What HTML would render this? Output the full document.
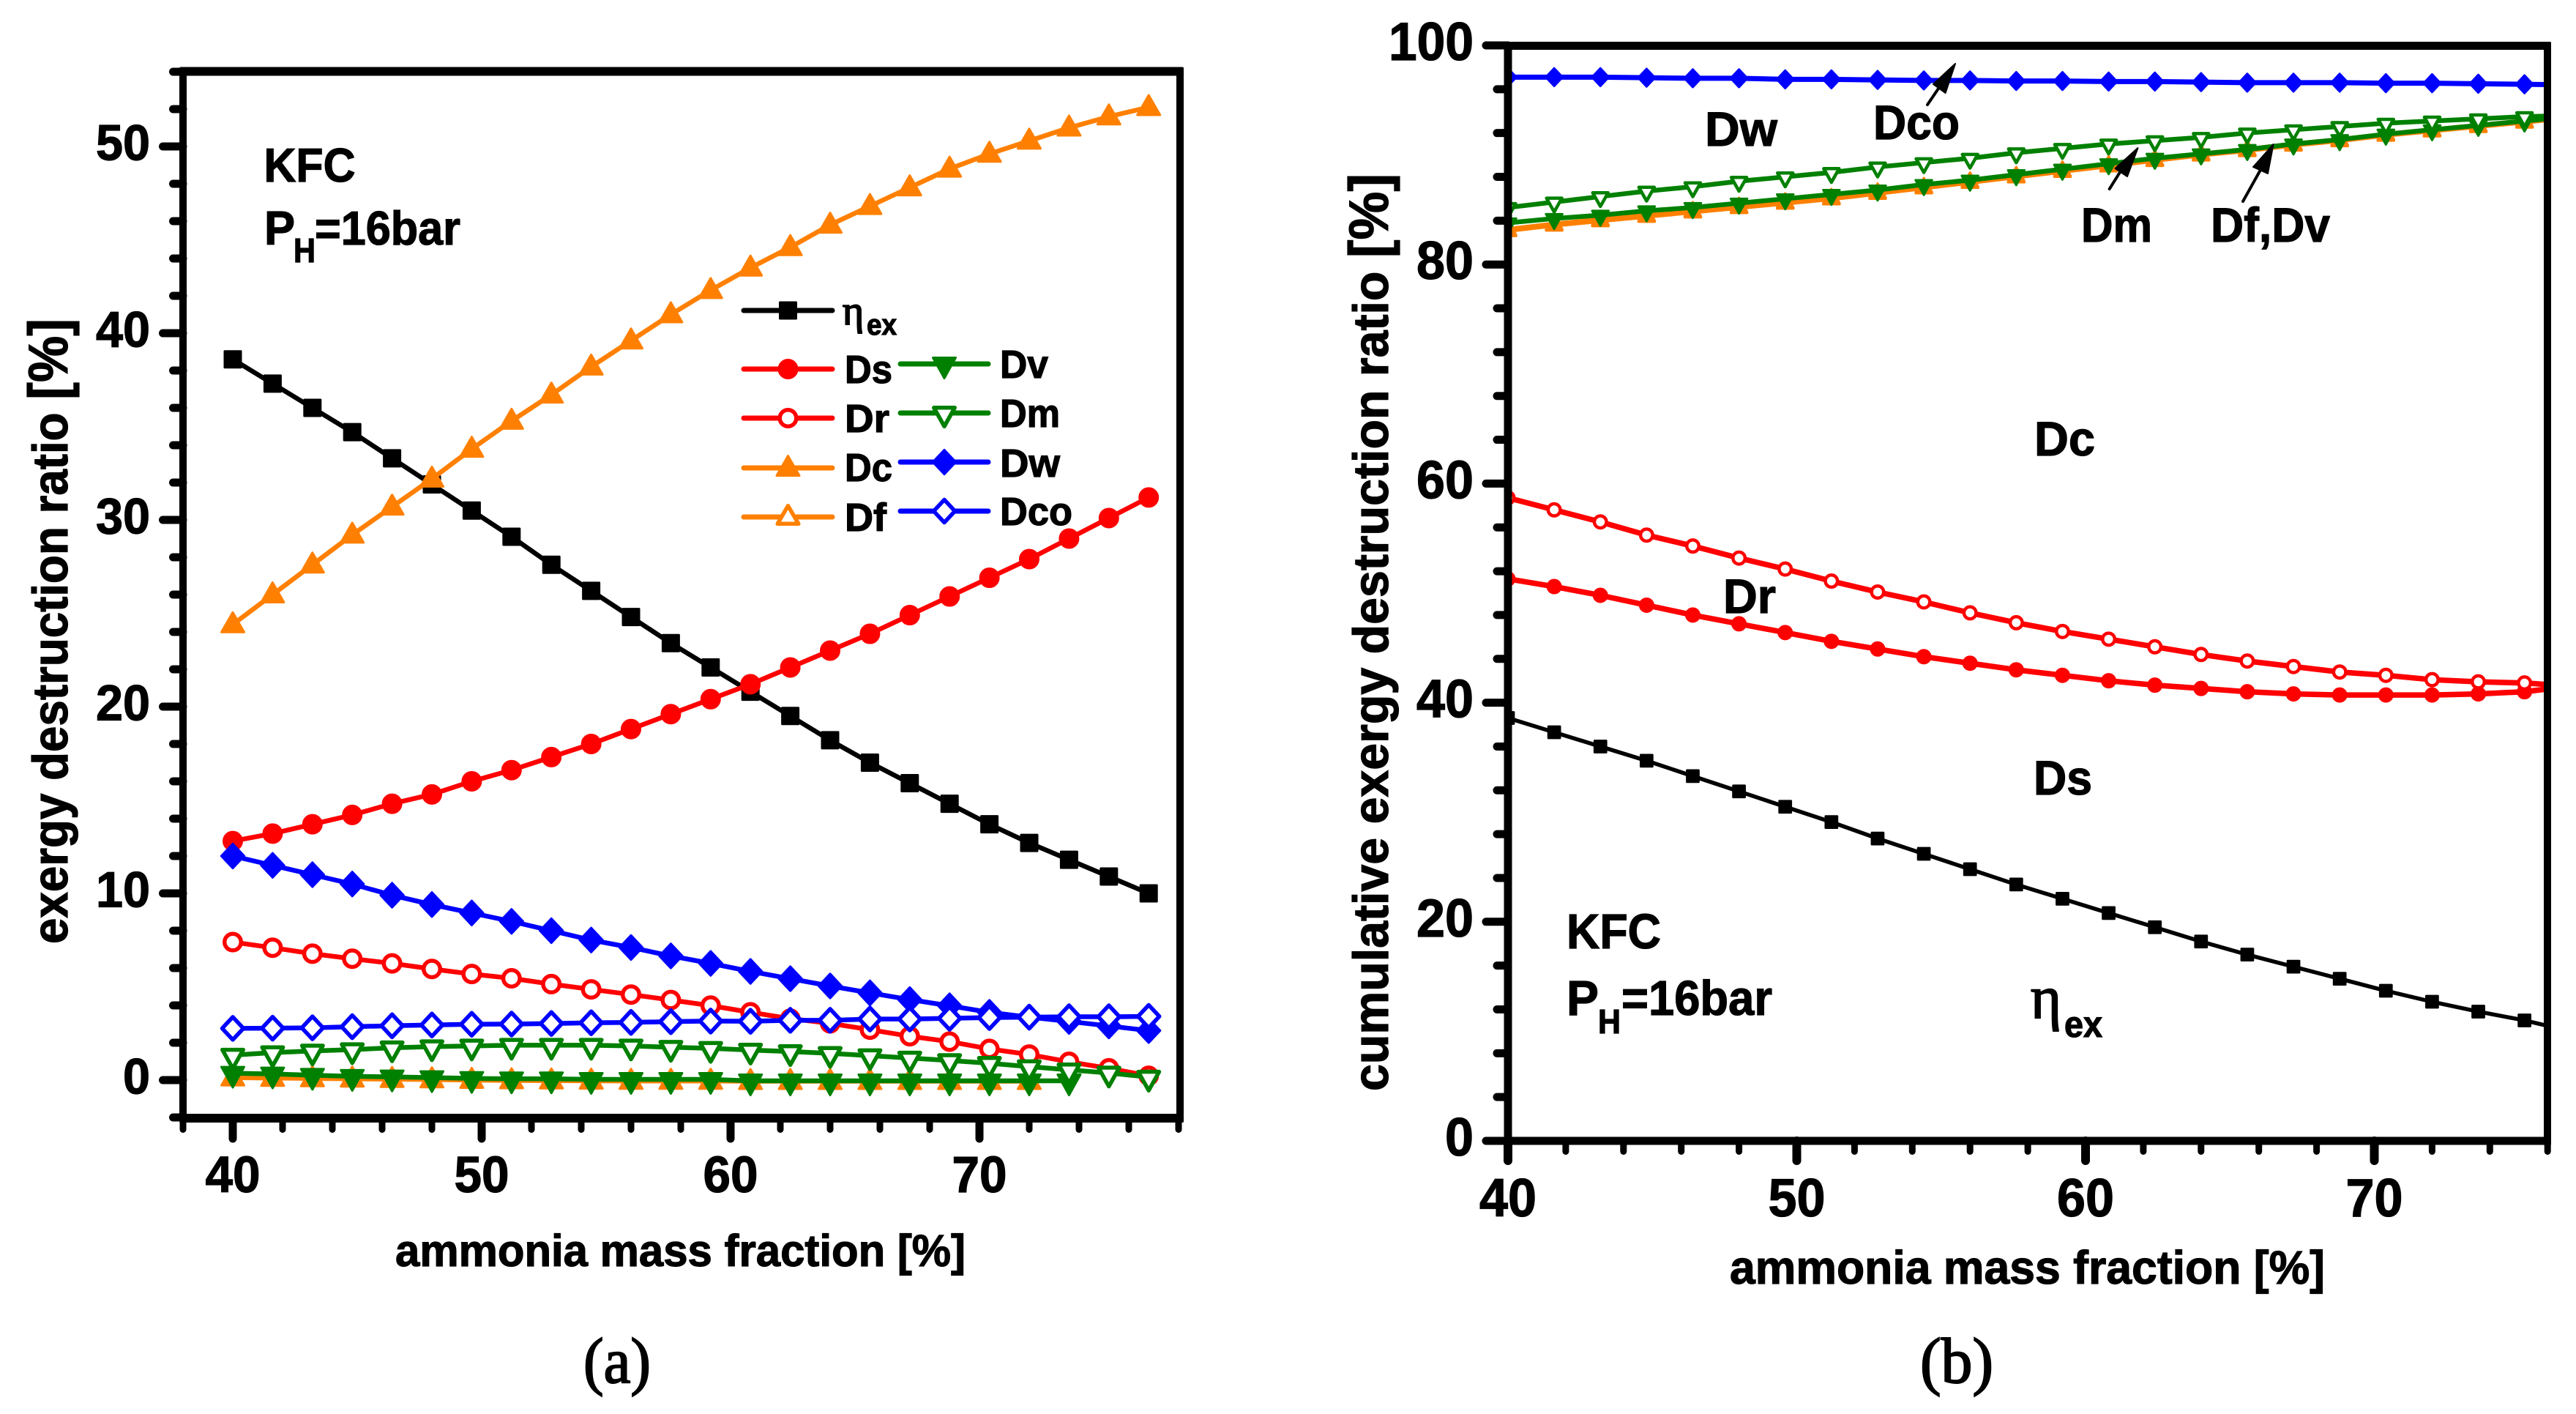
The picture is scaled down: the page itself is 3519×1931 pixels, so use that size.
<!DOCTYPE html>
<html lang="en">
<head>
<meta charset="utf-8">
<title>Exergy destruction ratio charts</title>
<style>
html,body{margin:0;padding:0;background:#fff;}
svg{display:block;}
text{font-family:"Liberation Sans",sans-serif;font-weight:bold;fill:#000;stroke:#000;stroke-width:1.2px;}
.serif{font-family:"Liberation Serif",serif;font-weight:normal;stroke-width:2px;}
</style>
</head>
<body>
<svg id="fig" xmlns="http://www.w3.org/2000/svg" width="3519" height="1931" viewBox="0 0 3519 1931">
<defs>
<clipPath id="clipB"><rect x="2060" y="62" width="1420" height="1496"/></clipPath>
</defs>
<rect x="0" y="0" width="3519" height="1931" fill="#fff"/>

<g id="marksA"></g>
<g id="axesA"></g>
<g id="legendA"></g>

<g id="marksB" clip-path="url(#clipB)"></g>
<g id="axesB"></g>

<!-- Panel a static labels -->
<text transform="translate(92,1289) rotate(-90)" font-size="68" textLength="854" lengthAdjust="spacingAndGlyphs">exergy destruction ratio <tspan font-size="76">[%]</tspan></text>
<text x="540" y="1729" font-size="61" textLength="779" lengthAdjust="spacingAndGlyphs">ammonia mass fraction [%]</text>
<text x="360.5" y="248" font-size="65" textLength="125" lengthAdjust="spacingAndGlyphs">KFC</text>
<text x="361" y="334" font-size="65" textLength="42" lengthAdjust="spacingAndGlyphs">P</text>
<text x="401" y="358" font-size="46" textLength="30" lengthAdjust="spacingAndGlyphs">H</text>
<text x="430" y="334" font-size="65" textLength="199" lengthAdjust="spacingAndGlyphs">=16bar</text>

<!-- Legend text -->
<text class="serif" x="1151" y="443" font-size="56" textLength="29" lengthAdjust="spacingAndGlyphs">η</text>
<text x="1184" y="457" font-size="40" textLength="41" lengthAdjust="spacingAndGlyphs">ex</text>
<text x="1154" y="523" font-size="54" textLength="65" lengthAdjust="spacingAndGlyphs">Ds</text>
<text x="1154" y="590" font-size="54" textLength="61" lengthAdjust="spacingAndGlyphs">Dr</text>
<text x="1154" y="657" font-size="54" textLength="65" lengthAdjust="spacingAndGlyphs">Dc</text>
<text x="1154" y="725" font-size="54" textLength="57" lengthAdjust="spacingAndGlyphs">Df</text>
<text x="1366" y="516" font-size="54" textLength="66" lengthAdjust="spacingAndGlyphs">Dv</text>
<text x="1366" y="583" font-size="54" textLength="82" lengthAdjust="spacingAndGlyphs">Dm</text>
<text x="1366" y="651" font-size="54" textLength="82" lengthAdjust="spacingAndGlyphs">Dw</text>
<text x="1366" y="717" font-size="54" textLength="99" lengthAdjust="spacingAndGlyphs">Dco</text>

<!-- Panel b static labels -->
<text transform="translate(1896,1490) rotate(-90)" font-size="68" textLength="1253" lengthAdjust="spacingAndGlyphs">cumulative exergy destruction ratio <tspan font-size="76">[%]</tspan></text>
<text x="2363" y="1753" font-size="64" textLength="813" lengthAdjust="spacingAndGlyphs">ammonia mass fraction [%]</text>
<text x="2140" y="1295" font-size="67" textLength="129" lengthAdjust="spacingAndGlyphs">KFC</text>
<text x="2140" y="1386" font-size="67" textLength="44" lengthAdjust="spacingAndGlyphs">P</text>
<text x="2183" y="1411" font-size="46" textLength="31" lengthAdjust="spacingAndGlyphs">H</text>
<text x="2215" y="1386" font-size="67" textLength="206" lengthAdjust="spacingAndGlyphs">=16bar</text>

<text x="2329" y="199" font-size="66" textLength="99" lengthAdjust="spacingAndGlyphs">Dw</text>
<text x="2559" y="190" font-size="66" textLength="118" lengthAdjust="spacingAndGlyphs">Dco</text>
<text x="2843" y="330" font-size="66" textLength="97" lengthAdjust="spacingAndGlyphs">Dm</text>
<text x="3020" y="330" font-size="66" textLength="163" lengthAdjust="spacingAndGlyphs">Df,Dv</text>
<text x="2779" y="622" font-size="66" textLength="83" lengthAdjust="spacingAndGlyphs">Dc</text>
<text x="2778" y="1085" font-size="66" textLength="80" lengthAdjust="spacingAndGlyphs">Ds</text>
<text x="2354" y="837" font-size="66" textLength="72" lengthAdjust="spacingAndGlyphs">Dr</text>
<text class="serif" x="2774" y="1390" font-size="84" textLength="42" lengthAdjust="spacingAndGlyphs">η</text>
<text x="2820" y="1416" font-size="50" textLength="52" lengthAdjust="spacingAndGlyphs">ex</text>

<!-- Arrows -->
<g fill="#000" stroke="#000" stroke-linejoin="round" stroke-linecap="round">
<line x1="2633" y1="143" x2="2650" y2="118" stroke-width="4"/>
<polygon points="2671,87 2641,115 2657.6,127" stroke-width="2"/>
<line x1="2881.7" y1="258" x2="2898" y2="232" stroke-width="4"/>
<polygon points="2920.5,202 2889.5,230 2906,241" stroke-width="2"/>
<line x1="3064" y1="275" x2="3088" y2="232" stroke-width="4"/>
<polygon points="3105.6,197 3078,228 3098,237" stroke-width="2"/>
</g>

<!-- Captions -->
<text class="serif" x="797" y="1888" font-size="88" textLength="92" lengthAdjust="spacingAndGlyphs">(a)</text>
<text class="serif" x="2623" y="1888" font-size="88" textLength="100" lengthAdjust="spacingAndGlyphs">(b)</text>
</svg>

<script>
const massFraction = [40,41.6,43.2,44.8,46.4,48,49.6,51.2,52.8,54.4,56,57.6,59.2,60.8,62.4,64,65.6,67.2,68.8,70.4,72,73.6,75.2,76.8];

const aEta = [38.6,37.3,36,34.7,33.3,31.9,30.5,29.1,27.6,26.2,24.8,23.4,22.1,20.8,19.5,18.2,17,15.9,14.8,13.7,12.7,11.8,10.9,10];
const aDs = [12.8,13.2,13.7,14.2,14.8,15.3,16,16.6,17.3,18,18.8,19.6,20.4,21.2,22.1,23,23.9,24.9,25.9,26.9,27.9,29,30.1,31.2];
const aDr = [7.39,7.09,6.77,6.5,6.25,5.95,5.68,5.45,5.14,4.86,4.58,4.29,3.99,3.63,3.29,3.04,2.7,2.35,2.06,1.67,1.37,0.98,0.63,0.23];
const aDc = [24.4,26,27.6,29.2,30.7,32.2,33.8,35.3,36.7,38.2,39.6,41,42.3,43.5,44.6,45.8,46.8,47.8,48.8,49.6,50.3,51,51.6,52.1];
const aDf = [0.13,0.11,0.09,0.07,0.05,0.03,0,-0.02,-0.03,-0.04,-0.05,-0.05,-0.05,-0.06,-0.06,-0.06,-0.06,-0.06,-0.06,-0.06,-0.06,null,null,null];
const aDv = [0.37,0.33,0.26,0.2,0.17,0.13,0.09,0.07,0.07,0.04,0.04,0.04,0.04,-0.04,-0.04,-0.04,-0.04,-0.04,-0.04,-0.04,-0.04,-0.04,null,null];
const aDm = [1.34,1.47,1.56,1.63,1.73,1.79,1.83,1.87,1.87,1.87,1.83,1.76,1.7,1.61,1.53,1.43,1.31,1.18,1.05,0.9,0.72,0.55,0.38,0.16];
const aDw = [12,11.5,11,10.5,9.9,9.4,8.95,8.5,8,7.5,7.1,6.65,6.25,5.82,5.43,5.04,4.67,4.31,3.98,3.63,3.37,3.14,2.9,2.65];
const aDco = [2.77,2.78,2.8,2.86,2.91,2.95,2.99,3,3.03,3.07,3.09,3.13,3.16,3.15,3.2,3.2,3.27,3.27,3.31,3.35,3.37,3.39,3.39,3.41];

const bEta = [38.6,37.3,36,34.7,33.3,31.9,30.5,29.1,27.6,26.2,24.8,23.4,22.1,20.8,19.5,18.2,17,15.9,14.8,13.7,12.7,11.8,11,10];
const bDs = [51.3,50.6,49.8,48.9,48,47.2,46.4,45.6,44.9,44.2,43.6,43,42.5,42,41.6,41.3,41,40.8,40.7,40.7,40.7,40.8,41,41.5];
const bDr = [58.7,57.6,56.5,55.3,54.3,53.2,52.2,51.1,50.1,49.2,48.2,47.3,46.5,45.8,45.1,44.4,43.8,43.3,42.8,42.5,42.1,41.9,41.8,41.5];
const bDc = [83.1,83.6,84,84.4,84.8,85.2,85.6,86,86.5,87,87.5,88,88.5,89,89.5,90,90.4,90.9,91.3,91.8,92.2,92.6,93,93.4];
const bDf = [83.2,83.7,84.1,84.5,84.9,85.3,85.7,86.1,86.6,87.1,87.6,88.1,88.6,89.1,89.6,90.1,90.5,91,91.4,91.9,92.3,92.7,93.1,93.5];
const bDv = [83.8,84.2,84.5,84.9,85.2,85.6,86,86.4,86.8,87.3,87.7,88.2,88.7,89.2,89.7,90.1,90.5,91,91.4,91.9,92.3,92.7,93.1,93.5];
const bDm = [85.2,85.7,86.2,86.7,87.1,87.6,88,88.4,88.9,89.3,89.7,90.2,90.6,91,91.3,91.6,92,92.3,92.6,92.9,93.1,93.3,93.5,93.6];
const bDw = [97.1,97.1,97.1,97.05,97,97,96.9,96.9,96.85,96.8,96.8,96.75,96.75,96.7,96.7,96.65,96.6,96.6,96.6,96.55,96.55,96.5,96.45,96.4];

const aYTickLabels = ['0','10','20','30','40','50'];
const aYTickValues = [0,10,20,30,40,50];
const aXTickLabels = ['40','50','60','70'];
const aXTickValues = [40,50,60,70];
const bYTickLabels = ['0','20','40','60','80','100'];
const bYTickValues = [0,20,40,60,80,100];
const bXTickLabels = ['40','50','60','70'];
const bXTickValues = [40,50,60,70];

const SVGNS = 'http://www.w3.org/2000/svg';
const BLACK = '#000000', RED = '#ff0000', ORANGE = '#ff8000', GREEN = '#008000', BLUE = '#0000ff';

const xA = v => 318 + (v - 40) * 34.0;
const yA = v => 1475 - v * 25.5;
const xB = v => 2060 + (v - 40) * 39.45;
const yB = v => 1558 - v * 14.96;

function make(tag, parent, attrs) {
  const el = document.createElementNS(SVGNS, tag);
  for (const k in attrs) el.setAttribute(k, attrs[k]);
  parent.appendChild(el);
  return el;
}

function marker(parent, shape, filled, color, cx, cy, s, sw, label) {
  const fill = filled ? color : '#ffffff';
  const w = filled ? 3 : sw;
  const i = w / 2;
  let el;
  if (shape === 'circle') {
    el = make('circle', parent, {cx: cx, cy: cy, r: 14 * s - i});
  } else {
    let pts;
    if (shape === 'square') {
      const h = 12.5 * s - i;
      pts = [[-h,-h],[h,-h],[h,h],[-h,h]];
    } else if (shape === 'diamond') {
      const a = 17 * s - i * 0.9, b = 18 * s - i * 0.9;
      pts = [[0,-b],[a,0],[0,b],[-a,0]];
    } else if (shape === 'up') {
      pts = [[0,-18 * s + i],[17 * s - i,12 * s - i],[-17 * s + i,12 * s - i]];
    } else {
      pts = [[-17 * s + i,-10 * s + i],[17 * s - i,-10 * s + i],[0,21 * s - i]];
    }
    el = make('polygon', parent, {points: pts.map(p => (cx + p[0]) + ',' + (cy + p[1])).join(' ')});
  }
  el.setAttribute('fill', fill);
  el.setAttribute('stroke', color);
  el.setAttribute('stroke-width', w);
  el.setAttribute('stroke-linejoin', 'round');
  
  
  return el;
}

function series(parent, name, values, fx, fy, color, shape, filled, s, sw, lw) {
  const g = make('g', parent, {});
  
  
  const pts = [];
  values.forEach((v, i) => { if (v !== null) pts.push([fx(massFraction[i]), fy(v)]); });
  const line = make('polyline', g, {
    points: pts.map(p => p.join(',')).join(' '),
    fill: 'none', stroke: color, 'stroke-width': lw, 'stroke-linejoin': 'round'
  });
  
  
  pts.forEach(p => { marker(g, shape, filled, color, p[0], p[1], s, sw, name + '-point'); });
}

function frame(parent, name, x, y, w, h) {
  const r = make('rect', parent, {x: x, y: y, width: w, height: h, fill: '#000', rx: 2});
  
  
}

function tick(parent, name, x1, y1, x2, y2, w) {
  const l = make('line', parent, {x1: x1, y1: y1, x2: x2, y2: y2, stroke: '#000', 'stroke-width': w, 'stroke-linecap': 'round'});
  
  
}

function tickLabel(parent, name, str, x, y, fs, len) {
  const t = make('text', parent, {x: x, y: y, 'font-size': fs, textLength: len, lengthAdjust: 'spacingAndGlyphs'});
  t.textContent = str;
  
  
}

/* Panel a */
const mA = document.getElementById('marksA');
series(mA, 'a-eta', aEta, xA, yA, BLACK, 'square', true, 1, 5.5, 6.5);
series(mA, 'a-ds', aDs, xA, yA, RED, 'circle', true, 1, 5.5, 6.5);
series(mA, 'a-dr', aDr, xA, yA, RED, 'circle', false, 1, 5.5, 6.5);
series(mA, 'a-dc', aDc, xA, yA, ORANGE, 'up', true, 1, 5.5, 6.5);
series(mA, 'a-df', aDf, xA, yA, ORANGE, 'up', true, 1, 5.5, 6.5);
series(mA, 'a-dv', aDv, xA, yA, GREEN, 'down', true, 1, 5.5, 6.5);
series(mA, 'a-dm', aDm, xA, yA, GREEN, 'down', false, 1, 5.5, 6.5);
series(mA, 'a-dw', aDw, xA, yA, BLUE, 'diamond', true, 1, 5.5, 6.5);
series(mA, 'a-dco', aDco, xA, yA, BLUE, 'diamond', false, 1, 5.5, 6.5);

const axA = document.getElementById('axesA');
frame(axA, 'a-left-axis', 245, 92, 10, 1441);
frame(axA, 'a-right-axis', 1607, 92, 10, 1441);
frame(axA, 'a-top-axis', 245, 91.5, 1372, 12);
frame(axA, 'a-bottom-axis', 245, 1521, 1372, 12);
for (let v = -2; v <= 54; v += 2) {
  const major = aYTickValues.indexOf(v) >= 0;
  tick(axA, 'a-y-tick', 250, yA(v), major ? 222.5 : 236.5, yA(v), 11);
}
for (let v = 38; v <= 78; v += 2) {
  const major = aXTickValues.indexOf(v) >= 0;
  tick(axA, 'a-x-tick', xA(v), 1527, xA(v), major ? 1555 : 1542.5, major ? 11 : 9);
}
aYTickLabels.forEach((s, i) => {
  const len = s.length === 1 ? 37 : 74;
  tickLabel(axA, 'a-y-tick-label', s, 205 - len, yA(aYTickValues[i]) + 18.5, 69, len);
});
aXTickLabels.forEach((s, i) => {
  tickLabel(axA, 'a-x-tick-label', s, xA(aXTickValues[i]) - 37.5, 1628, 70, 75);
});

/* Legend */
const lg = document.getElementById('legendA');
function legendEntry(name, color, shape, filled, x1, x2, y) {
  const l = make('line', lg, {x1: x1 + 3, x2: x2 - 3, y1: y, y2: y, stroke: color, 'stroke-width': 7, 'stroke-linecap': 'round'});
  
  
  marker(lg, shape, filled, color, (x1 + x2) / 2, y, 1, 5.5, name + '-marker');
}
legendEntry('legend-eta', BLACK, 'square', true, 1013, 1140, 424);
legendEntry('legend-ds', RED, 'circle', true, 1013, 1140, 504);
legendEntry('legend-dr', RED, 'circle', false, 1013, 1140, 571);
legendEntry('legend-dc', ORANGE, 'up', true, 1013, 1140, 639);
legendEntry('legend-df', ORANGE, 'up', false, 1013, 1140, 706);
legendEntry('legend-dv', GREEN, 'down', true, 1227, 1353, 497);
legendEntry('legend-dm', GREEN, 'down', false, 1227, 1353, 564);
legendEntry('legend-dw', BLUE, 'diamond', true, 1227, 1353, 631);
legendEntry('legend-dco', BLUE, 'diamond', false, 1227, 1353, 698);

/* Panel b */
const mB = document.getElementById('marksB');
const sB = 0.75;
series(mB, 'b-eta', bEta, xB, yB, BLACK, 'square', true, sB, 4.5, 5.5);
series(mB, 'b-ds', bDs, xB, yB, RED, 'circle', true, sB, 4.5, 7.5);
series(mB, 'b-dr', bDr, xB, yB, RED, 'circle', false, sB, 4.5, 7.5);
series(mB, 'b-dc', bDc, xB, yB, ORANGE, 'up', true, sB, 4.5, 6.5);
series(mB, 'b-df', bDf, xB, yB, ORANGE, 'up', true, sB, 4.5, 6.5);
series(mB, 'b-dv', bDv, xB, yB, GREEN, 'down', true, sB, 4.5, 6.5);
series(mB, 'b-dm', bDm, xB, yB, GREEN, 'down', false, sB, 4.5, 6.5);
series(mB, 'b-dw', bDw, xB, yB, BLUE, 'diamond', true, sB, 4.5, 7);

const axB = document.getElementById('axesB');
frame(axB, 'b-left-axis', 2054.5, 57, 11, 1507);
frame(axB, 'b-right-axis', 3475, 57, 10, 1507);
frame(axB, 'b-top-axis', 2054.5, 57, 1430.5, 11);
frame(axB, 'b-bottom-axis', 2054.5, 1552.5, 1430.5, 11);
for (let v = 0; v <= 100; v += 4) {
  const major = bYTickValues.indexOf(v) >= 0;
  tick(axB, 'b-y-tick', 2060, yB(v), major ? 2030 : 2045, yB(v), 11);
}
for (let v = 40; v <= 76; v += 2) {
  const major = bXTickValues.indexOf(v) >= 0;
  tick(axB, 'b-x-tick', xB(v), 1558, xB(v), major ? 1585 : 1572.5, major ? 12 : 9);
}
bYTickLabels.forEach((s, i) => {
  const len = s.length === 1 ? 39 : (s.length === 2 ? 78 : 116);
  tickLabel(axB, 'b-y-tick-label', s, 2013 - len, yB(bYTickValues[i]) + 20, 73, len);
});
bXTickLabels.forEach((s, i) => {
  tickLabel(axB, 'b-x-tick-label', s, xB(bXTickValues[i]) - 39, 1661, 73, 78);
});
</script>
</body>
</html>
